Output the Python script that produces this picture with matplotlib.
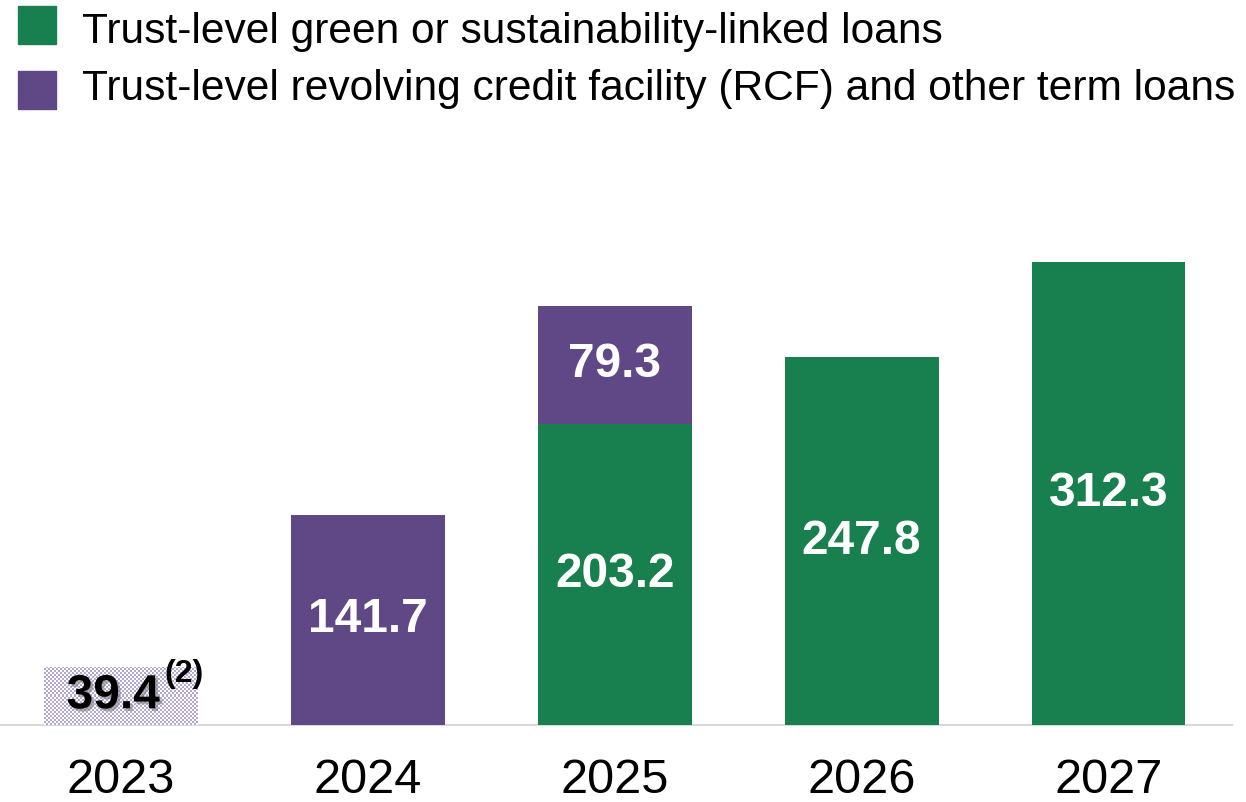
import numpy as np
import matplotlib
matplotlib.use("Agg")
import matplotlib.pyplot as plt
from matplotlib.patches import Rectangle
from matplotlib.colors import ListedColormap
import matplotlib.patheffects as pe

plt.rcParams['font.family'] = ['Liberation Sans', 'DejaVu Sans']

years = ["2023", "2024", "2025", "2026", "2027"]
green_vals = [0, 0, 203.2, 247.8, 312.3]
rcf_vals = [0, 141.7, 79.3, 0, 0]
prior_val = 39.4
prior_note = "(2)"
legend_labels = ["Trust-level green or sustainability-linked loans",
                 "Trust-level revolving credit facility (RCF) and other term loans"]

GREEN = "#17804E"
PURPLE = "#604785"
LIGHT_PURPLE = "#B4A7D1"

W, H = 1246, 802
fig = plt.figure(figsize=(W / 100, H / 100), dpi=100)
ax = fig.add_axes([0, (H - 725) / H, 1232 / W, 474.6 / H])

x = np.arange(len(years))
bw = 0.623

ax.bar(x, green_vals, bw, color=GREEN, zorder=3)
ax.bar(x, rcf_vals, bw, bottom=green_vals, color=PURPLE, zorder=3)

# 2023 checkered bar
bar23 = ax.bar([0], [prior_val], bw, facecolor="none", edgecolor="none", zorder=3)[0]
ncols, nrows = 77, 29
checker = (np.add.outer(np.arange(nrows), np.arange(ncols)) % 2).astype(float)
cmap = ListedColormap(["white", LIGHT_PURPLE])
im = ax.imshow(checker, cmap=cmap, interpolation="nearest", aspect="auto",
               extent=[bar23.get_x(), bar23.get_x() + bar23.get_width(), 0, bar23.get_height()],
               zorder=2)
im.set_clip_path(bar23)

# labels
LBL = 34.5
for i in range(len(years)):
    if green_vals[i] > 0:
        ax.text(x[i], green_vals[i] / 2, f"{green_vals[i]:.1f}", ha="center", va="center",
                color="white", fontsize=LBL, fontweight="bold", zorder=5)
    if rcf_vals[i] > 0:
        ax.text(x[i], green_vals[i] + rcf_vals[i] / 2, f"{rcf_vals[i]:.1f}", ha="center", va="center",
                color="white", fontsize=LBL, fontweight="bold", zorder=5)

t = ax.text(x[0] - 0.032, prior_val / 2, f"{prior_val:.1f}", ha="center", va="center",
            color="black", fontsize=LBL, fontweight="bold", zorder=5)
t.set_path_effects([pe.SimplePatchShadow(offset=(2, -2), shadow_rgbFace="gray", alpha=0.6), pe.Normal()])
ax.annotate(prior_note, xy=(x[0], prior_val), xycoords="data", xytext=(31, -5),
            textcoords="offset points", ha="left", va="center", fontsize=23,
            fontweight="bold", zorder=5)

ax.set_xlim(-0.49, 4.5)
ax.set_ylim(0, 320)
ax.set_xticks(x)
ax.set_xticklabels(years, fontsize=35)
ax.tick_params(axis="x", length=0, pad=24)
ax.set_yticks([])
for s in ["left", "right", "top"]:
    ax.spines[s].set_visible(False)
ax.spines["bottom"].set_color("#D9D9D9")
ax.spines["bottom"].set_linewidth(1.5)
ax.spines["bottom"].set_zorder(1)

# legend
for j, (lab, col) in enumerate(zip(legend_labels, [GREEN, PURPLE])):
    y_top = [6, 71][j]
    fig.add_artist(Rectangle((18 / W, 1 - (y_top + 37.5) / H), 38 / W, 37.5 / H,
                             transform=fig.transFigure, color=col))
    fig.text(82 / W, 1 - [43, 100][j] / H, lab, ha="left", va="baseline", fontsize=30.6)

fig.savefig("out.png", dpi=100)
